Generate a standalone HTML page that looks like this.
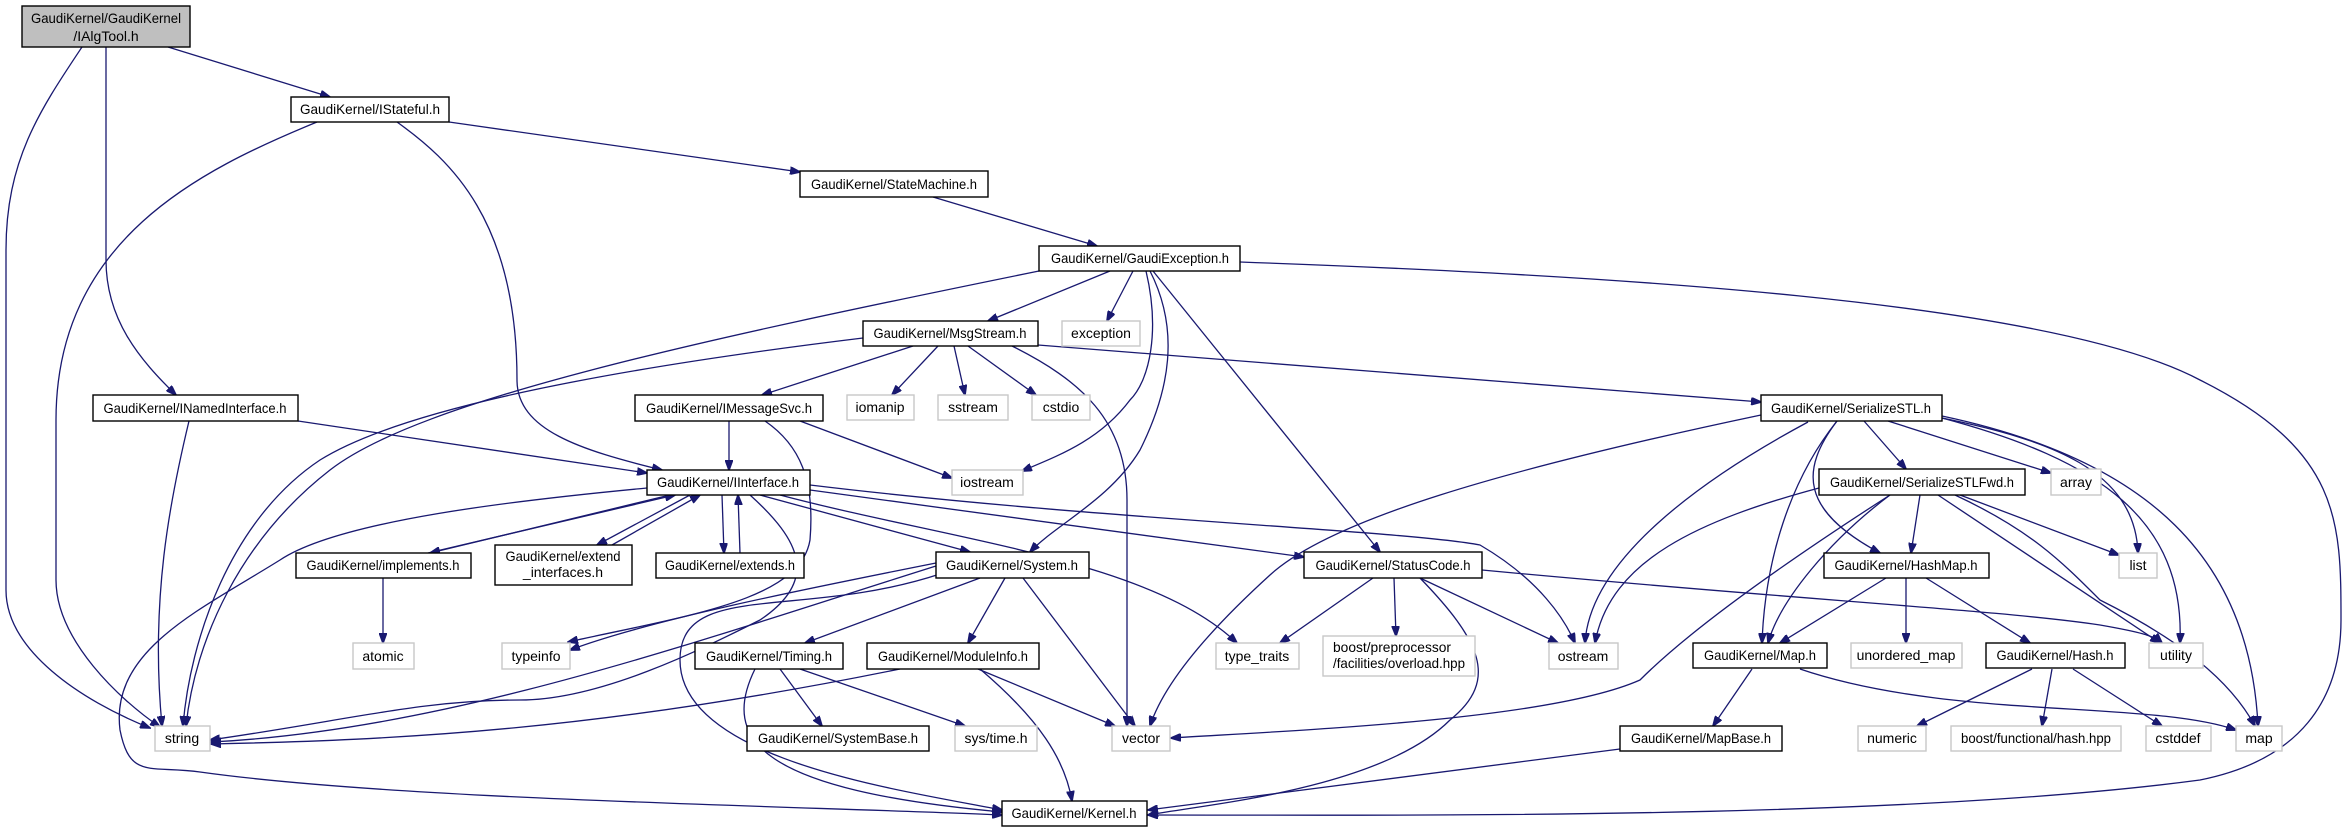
<!DOCTYPE html>
<html><head><meta charset="utf-8"><style>
html,body{margin:0;padding:0;background:#fff;}
svg{display:block;}
text{font-family:"Liberation Sans",sans-serif;font-size:14px;fill:#000;}
.b{fill:#fff;stroke:#000;stroke-width:1.4;}
.g{fill:#fff;stroke:#c8c8c8;stroke-width:1.4;}
.e{fill:none;stroke:#191970;stroke-width:1.3;marker-end:url(#a);}
</style></head><body>
<svg width="2347" height="832" viewBox="0 0 2347 832" xmlns="http://www.w3.org/2000/svg">
<defs><marker id="a" markerWidth="11" markerHeight="8" refX="10" refY="4" orient="auto" markerUnits="userSpaceOnUse"><path d="M0,0 L11,4 L0,8 Z" fill="#191970" stroke="#191970"/></marker></defs>

<!-- edges -->
<path class="e" d="M82,47 C40,110 6,160 6,250 L6,590 C6,650 80,700 150,728"/>
<path class="e" d="M106,47 L106,260 C106,320 140,360 176,395"/>
<path class="e" d="M168,47 L330,97"/>
<path class="e" d="M317,122 C200,170 56,240 56,420 L56,580 C56,640 120,700 160,727"/>
<path class="e" d="M397,122 C450,160 517,220 517,380 C517,430 580,450 662,470"/>
<path class="e" d="M449,122 L800,172"/>
<path class="e" d="M933,197 L1097,246"/>
<path class="e" d="M1039,271 C700,340 420,400 330,470 C240,540 195,640 186,726"/>
<path class="e" d="M1110,271 L988,321"/>
<path class="e" d="M1133,271 L1107,321"/>
<path class="e" d="M1146,271 C1160,330 1150,380 1130,400 C1100,440 1060,455 1022,471"/>
<path class="e" d="M1150,271 C1180,330 1170,390 1140,450 C1110,500 1055,525 1030,552"/>
<path class="e" d="M1153,271 L1380,552"/>
<path class="e" d="M1240,262 C1600,275 2050,300 2200,380 C2340,450 2341,520 2341,620 C2341,700 2300,760 2200,780 C1900,820 1400,815 1148,815"/>
<path class="e" d="M863,338 C600,370 400,410 320,460 C230,520 190,640 183,726"/>
<path class="e" d="M913,346 L762,395"/>
<path class="e" d="M938,346 L892,395"/>
<path class="e" d="M954,346 L965,395"/>
<path class="e" d="M968,346 L1036,395"/>
<path class="e" d="M1012,346 C1080,380 1127,420 1127,500 L1127,726"/>
<path class="e" d="M1038,345 L1761,402"/>
<path class="e" d="M189,421 C170,500 150,600 162,726"/>
<path class="e" d="M298,421 L647,473"/>
<path class="e" d="M729,421 L729,470"/>
<path class="e" d="M800,421 L952,478"/>
<path class="e" d="M765,421 C800,445 815,480 810,540 C800,600 690,615 568,642"/>
<path class="e" d="M647,488 C520,500 340,520 280,560 C200,610 110,650 120,730 C130,780 150,765 200,772 C400,800 800,806 1002,815"/>
<path class="e" d="M670,495 L430,553"/>
<path class="e" d="M428,553 L675,495"/>
<path class="e" d="M690,495 L597,545"/>
<path class="e" d="M612,545 L700,495"/>
<path class="e" d="M722,495 L724,553"/>
<path class="e" d="M740,553 L738,495"/>
<path class="e" d="M760,495 L970,552"/>
<path class="e" d="M810,490 L1304,557"/>
<path class="e" d="M780,495 C950,540 1150,560 1237,643"/>
<path class="e" d="M810,485 C1100,520 1400,530 1480,545 C1540,580 1565,620 1575,643"/>
<path class="e" d="M750,495 C800,540 820,580 760,620 C700,650 600,700 520,700 C420,700 350,720 210,740"/>
<path class="e" d="M383,578 L383,643"/>
<path class="e" d="M936,563 C800,590 650,620 570,650"/>
<path class="e" d="M936,566 C700,640 450,730 211,742"/>
<path class="e" d="M980,578 L805,643"/>
<path class="e" d="M1005,578 L968,643"/>
<path class="e" d="M1023,578 L1135,726"/>
<path class="e" d="M940,574 C800,620 680,580 680,660 C680,760 900,790 1002,810"/>
<path class="e" d="M1373,578 L1280,643"/>
<path class="e" d="M1394,578 L1396,636"/>
<path class="e" d="M1420,578 L1558,643"/>
<path class="e" d="M1420,578 C1480,640 1500,680 1450,720 C1380,790 1200,805 1148,815"/>
<path class="e" d="M1482,570 C1800,600 2000,610 2100,625 C2140,632 2155,636 2162,643"/>
<path class="e" d="M780,669 L822,726"/>
<path class="e" d="M800,669 L965,726"/>
<path class="e" d="M755,669 C720,740 760,790 1002,812"/>
<path class="e" d="M900,669 C600,730 400,740 211,744"/>
<path class="e" d="M978,669 L1115,726"/>
<path class="e" d="M980,669 C1040,720 1065,760 1072,801"/>
<path class="e" d="M1808,422 C1700,480 1590,560 1585,643"/>
<path class="e" d="M1761,415 C1500,470 1330,520 1270,575 C1215,625 1165,680 1150,726"/>
<path class="e" d="M1864,421 L1906,469"/>
<path class="e" d="M1888,421 L2051,473"/>
<path class="e" d="M1837,421 C1800,470 1800,510 1880,553"/>
<path class="e" d="M1837,421 C1790,480 1765,560 1762,643"/>
<path class="e" d="M1942,418 C2050,440 2135,470 2138,553"/>
<path class="e" d="M1942,418 C2100,460 2185,520 2180,643"/>
<path class="e" d="M1942,416 C2150,460 2250,560 2258,726"/>
<path class="e" d="M1819,488 C1700,520 1610,560 1595,643"/>
<path class="e" d="M1890,495 C1820,540 1700,620 1640,680 C1550,720 1300,730 1171,738"/>
<path class="e" d="M1890,495 C1830,540 1780,600 1768,643"/>
<path class="e" d="M1920,495 L1911,553"/>
<path class="e" d="M1960,495 L2119,555"/>
<path class="e" d="M1938,495 L2160,643"/>
<path class="e" d="M1955,495 C2030,530 2060,560 2100,600 C2180,640 2230,680 2255,726"/>
<path class="e" d="M1886,578 L1780,643"/>
<path class="e" d="M1906,578 L1906,643"/>
<path class="e" d="M1926,578 L2030,643"/>
<path class="e" d="M1752,669 L1713,726"/>
<path class="e" d="M1800,669 C1950,720 2150,700 2236,730"/>
<path class="e" d="M2032,669 L1917,726"/>
<path class="e" d="M2052,669 L2042,726"/>
<path class="e" d="M2073,669 L2162,726"/>
<path class="e" d="M1620,749 L1148,810"/>

<!-- nodes -->
<rect x="22" y="6" width="168" height="41" fill="#bfbfbf" stroke="#000" stroke-width="1.4"/>
<text x="106" y="23" text-anchor="middle" textLength="150" lengthAdjust="spacingAndGlyphs">GaudiKernel/GaudiKernel</text>
<text x="106" y="41" text-anchor="middle">/IAlgTool.h</text>

<rect class="b" x="291" y="97" width="158" height="25"/><text x="370" y="114" text-anchor="middle" textLength="140" lengthAdjust="spacingAndGlyphs">GaudiKernel/IStateful.h</text>
<rect class="b" x="800" y="171" width="188" height="26"/><text x="894" y="189" text-anchor="middle" textLength="166" lengthAdjust="spacingAndGlyphs">GaudiKernel/StateMachine.h</text>
<rect class="b" x="1039" y="246" width="201" height="25"/><text x="1140" y="263" text-anchor="middle" textLength="178" lengthAdjust="spacingAndGlyphs">GaudiKernel/GaudiException.h</text>
<rect class="b" x="863" y="321" width="175" height="25"/><text x="950" y="338" text-anchor="middle" textLength="153" lengthAdjust="spacingAndGlyphs">GaudiKernel/MsgStream.h</text>
<rect class="g" x="1062" y="321" width="78" height="25"/><text x="1101" y="338" text-anchor="middle">exception</text>
<rect class="b" x="93" y="395" width="205" height="26"/><text x="195" y="413" text-anchor="middle" textLength="183" lengthAdjust="spacingAndGlyphs">GaudiKernel/INamedInterface.h</text>
<rect class="b" x="635" y="395" width="188" height="26"/><text x="729" y="413" text-anchor="middle" textLength="166" lengthAdjust="spacingAndGlyphs">GaudiKernel/IMessageSvc.h</text>
<rect class="g" x="847" y="395" width="67" height="25"/><text x="880" y="412" text-anchor="middle">iomanip</text>
<rect class="g" x="938" y="395" width="70" height="25"/><text x="973" y="412" text-anchor="middle">sstream</text>
<rect class="g" x="1032" y="395" width="58" height="25"/><text x="1061" y="412" text-anchor="middle">cstdio</text>
<rect class="b" x="1761" y="395" width="181" height="26"/><text x="1851" y="413" text-anchor="middle" textLength="160" lengthAdjust="spacingAndGlyphs">GaudiKernel/SerializeSTL.h</text>
<rect class="b" x="647" y="470" width="163" height="25"/><text x="728" y="487" text-anchor="middle" textLength="142" lengthAdjust="spacingAndGlyphs">GaudiKernel/IInterface.h</text>
<rect class="g" x="952" y="470" width="71" height="25"/><text x="987" y="487" text-anchor="middle">iostream</text>
<rect class="b" x="1819" y="469" width="206" height="26"/><text x="1922" y="487" text-anchor="middle" textLength="184" lengthAdjust="spacingAndGlyphs">GaudiKernel/SerializeSTLFwd.h</text>
<rect class="g" x="2051" y="469" width="50" height="26"/><text x="2076" y="487" text-anchor="middle">array</text>
<rect class="b" x="296" y="553" width="175" height="25"/><text x="383" y="570" text-anchor="middle" textLength="153" lengthAdjust="spacingAndGlyphs">GaudiKernel/implements.h</text>
<rect class="b" x="495" y="545" width="137" height="40"/><text x="563" y="561" text-anchor="middle" textLength="115" lengthAdjust="spacingAndGlyphs">GaudiKernel/extend</text><text x="563" y="577" text-anchor="middle">_interfaces.h</text>
<rect class="b" x="656" y="553" width="148" height="25"/><text x="730" y="570" text-anchor="middle" textLength="130" lengthAdjust="spacingAndGlyphs">GaudiKernel/extends.h</text>
<rect class="b" x="936" y="552" width="153" height="26"/><text x="1012" y="570" text-anchor="middle" textLength="132" lengthAdjust="spacingAndGlyphs">GaudiKernel/System.h</text>
<rect class="b" x="1304" y="552" width="178" height="26"/><text x="1393" y="570" text-anchor="middle" textLength="155" lengthAdjust="spacingAndGlyphs">GaudiKernel/StatusCode.h</text>
<rect class="b" x="1824" y="553" width="165" height="25"/><text x="1906" y="570" text-anchor="middle" textLength="143" lengthAdjust="spacingAndGlyphs">GaudiKernel/HashMap.h</text>
<rect class="g" x="2119" y="553" width="38" height="25"/><text x="2138" y="570" text-anchor="middle">list</text>
<rect class="g" x="353" y="643" width="61" height="26"/><text x="383" y="661" text-anchor="middle">atomic</text>
<rect class="g" x="502" y="643" width="68" height="26"/><text x="536" y="661" text-anchor="middle">typeinfo</text>
<rect class="b" x="695" y="643" width="148" height="26"/><text x="769" y="661" text-anchor="middle" textLength="126" lengthAdjust="spacingAndGlyphs">GaudiKernel/Timing.h</text>
<rect class="b" x="867" y="643" width="172" height="26"/><text x="953" y="661" text-anchor="middle" textLength="150" lengthAdjust="spacingAndGlyphs">GaudiKernel/ModuleInfo.h</text>
<rect class="g" x="1216" y="643" width="83" height="26"/><text x="1257" y="661" text-anchor="middle">type_traits</text>
<rect class="g" x="1323" y="636" width="152" height="40"/><text x="1333" y="652" textLength="118" lengthAdjust="spacingAndGlyphs">boost/preprocessor</text><text x="1333" y="668" textLength="132" lengthAdjust="spacingAndGlyphs">/facilities/overload.hpp</text>
<rect class="g" x="1549" y="643" width="69" height="26"/><text x="1583" y="661" text-anchor="middle">ostream</text>
<rect class="b" x="1693" y="643" width="134" height="25"/><text x="1760" y="660" text-anchor="middle" textLength="112" lengthAdjust="spacingAndGlyphs">GaudiKernel/Map.h</text>
<rect class="g" x="1851" y="643" width="111" height="25"/><text x="1906" y="660" text-anchor="middle">unordered_map</text>
<rect class="b" x="1986" y="643" width="139" height="25"/><text x="2055" y="660" text-anchor="middle" textLength="117" lengthAdjust="spacingAndGlyphs">GaudiKernel/Hash.h</text>
<rect class="g" x="2149" y="643" width="54" height="25"/><text x="2176" y="660" text-anchor="middle">utility</text>
<rect class="g" x="155" y="726" width="55" height="25"/><text x="182" y="743" text-anchor="middle">string</text>
<rect class="b" x="747" y="726" width="182" height="25"/><text x="838" y="743" text-anchor="middle" textLength="160" lengthAdjust="spacingAndGlyphs">GaudiKernel/SystemBase.h</text>
<rect class="g" x="955" y="726" width="82" height="25"/><text x="996" y="743" text-anchor="middle">sys/time.h</text>
<rect class="g" x="1112" y="726" width="58" height="25"/><text x="1141" y="743" text-anchor="middle">vector</text>
<rect class="b" x="1620" y="726" width="162" height="25"/><text x="1701" y="743" text-anchor="middle" textLength="140" lengthAdjust="spacingAndGlyphs">GaudiKernel/MapBase.h</text>
<rect class="g" x="1858" y="726" width="68" height="25"/><text x="1892" y="743" text-anchor="middle">numeric</text>
<rect class="g" x="1951" y="726" width="170" height="25"/><text x="2036" y="743" text-anchor="middle" textLength="150" lengthAdjust="spacingAndGlyphs">boost/functional/hash.hpp</text>
<rect class="g" x="2146" y="726" width="65" height="25"/><text x="2178" y="743" text-anchor="middle">cstddef</text>
<rect class="g" x="2236" y="726" width="46" height="25"/><text x="2259" y="743" text-anchor="middle">map</text>
<rect class="b" x="1002" y="801" width="145" height="25"/><text x="1074" y="818" text-anchor="middle" textLength="125" lengthAdjust="spacingAndGlyphs">GaudiKernel/Kernel.h</text>
</svg>
</body></html>
